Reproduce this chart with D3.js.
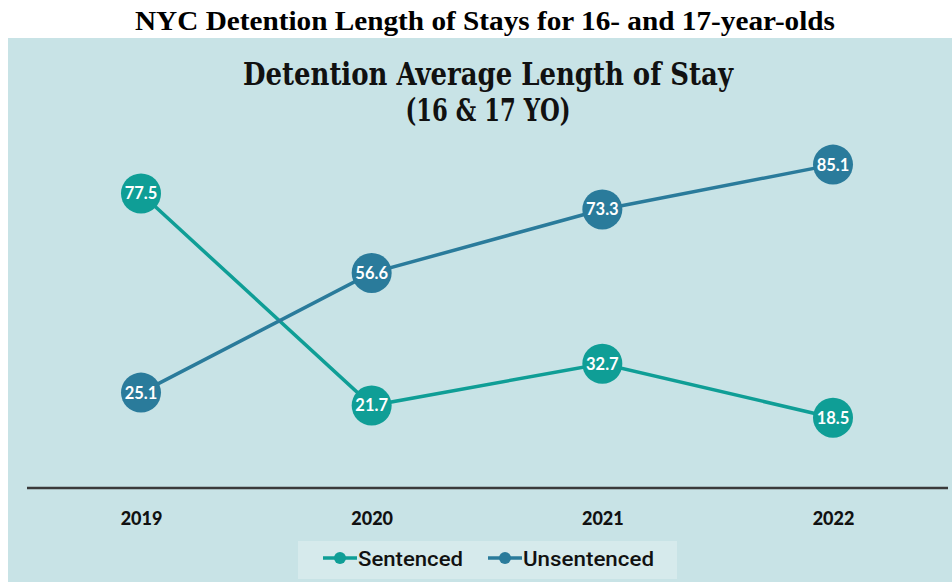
<!DOCTYPE html>
<html><head><meta charset="utf-8">
<script src="https://cdn.jsdelivr.net/npm/d3@7"></script>
<style>body{margin:0;background:#fff}svg{display:block}</style>
</head><body>
<svg id="c" width="952" height="582"></svg>
<script>
const years = ["2019","2020","2021","2022"];
const sentenced = [77.5, 21.7, 32.7, 18.5];
const unsentenced = [25.1, 56.6, 73.3, 85.1];
const seriesNames = ["Sentenced","Unsentenced"];
const colors = ["#0f9e96","#2a7b9b"];

const svg = d3.select("#c");
svg.append("rect").attr("x",8).attr("y",38).attr("width",944).attr("height",544).attr("fill","#c8e3e6");
svg.append("text").attr("x",485).attr("y",30).attr("text-anchor","middle")
  .attr("font-family","Liberation Serif").attr("font-weight","bold").attr("font-size",27)
  .attr("textLength",700).attr("lengthAdjust","spacingAndGlyphs")
  .attr("fill","#000").text("NYC Detention Length of Stays for 16- and 17-year-olds");
svg.append("text").attr("x",488).attr("y",85).attr("text-anchor","middle")
  .attr("font-family","DejaVu Serif Condensed").attr("font-weight","bold").attr("font-size",31)
  .attr("textLength",490).attr("lengthAdjust","spacingAndGlyphs")
  .attr("fill","#111").text("Detention Average Length of Stay");
svg.append("text").attr("x",488).attr("y",121).attr("text-anchor","middle")
  .attr("font-family","DejaVu Serif Condensed").attr("font-weight","bold").attr("font-size",31)
  .attr("textLength",165).attr("lengthAdjust","spacingAndGlyphs")
  .attr("fill","#111").text("(16 & 17 YO)");

const x = d3.scalePoint().domain(years).range([141,833]);
const y = d3.scaleLinear().domain([0,100]).range([488,108]);

const axis = svg.append("g").attr("transform","translate(0,488)")
  .call(d3.axisBottom(x).tickSize(0).tickPadding(37));
axis.select(".domain").remove();
axis.append("line").attr("x1",27).attr("x2",948).attr("y1",0).attr("y2",0)
  .attr("stroke","#3a3a3a").attr("stroke-width",2.5);
axis.selectAll(".tick text").attr("font-family","Lato").attr("font-weight",900)
  .attr("font-size",18).attr("fill","#111").attr("dy","0");

const data = [sentenced, unsentenced];
const line = d3.line().x((d,i)=>x(years[i])).y(d=>y(d));
data.forEach((vals,k)=>{
  svg.append("path").attr("d",line(vals)).attr("fill","none")
    .attr("stroke",colors[k]).attr("stroke-width",3.5);
});
data.forEach((vals,k)=>{
  const g = svg.append("g");
  g.selectAll("circle").data(vals).join("circle")
    .attr("cx",(d,i)=>x(years[i])).attr("cy",d=>y(d)).attr("r",20).attr("fill",colors[k]);
  g.selectAll("text").data(vals).join("text")
    .attr("x",(d,i)=>x(years[i])).attr("y",d=>y(d)).attr("dy","0.36em")
    .attr("text-anchor","middle").attr("font-family","Lato").attr("font-weight","bold")
    .attr("font-size",16.5).attr("fill","#fff").text(d=>d.toFixed(1));
});

// legend
const lg = svg.append("g");
lg.append("rect").attr("x",298).attr("y",541).attr("width",379).attr("height",38).attr("fill","#d6eaec");
const legX = [323, 488];
const legW = [105, 131];
seriesNames.forEach((n,k)=>{
  const gx = legX[k];
  lg.append("line").attr("x1",gx).attr("x2",gx+34).attr("y1",558).attr("y2",558)
    .attr("stroke",colors[k]).attr("stroke-width",3.5);
  lg.append("circle").attr("cx",gx+17).attr("cy",558).attr("r",6).attr("fill",colors[k]);
  lg.append("text").attr("x",gx+35).attr("y",566).attr("font-family","Roboto")
    .attr("font-size",21).attr("font-weight",500).attr("fill","#111")
    .attr("textLength",legW[k]).attr("lengthAdjust","spacingAndGlyphs").text(n);
});
</script>
</body></html>
